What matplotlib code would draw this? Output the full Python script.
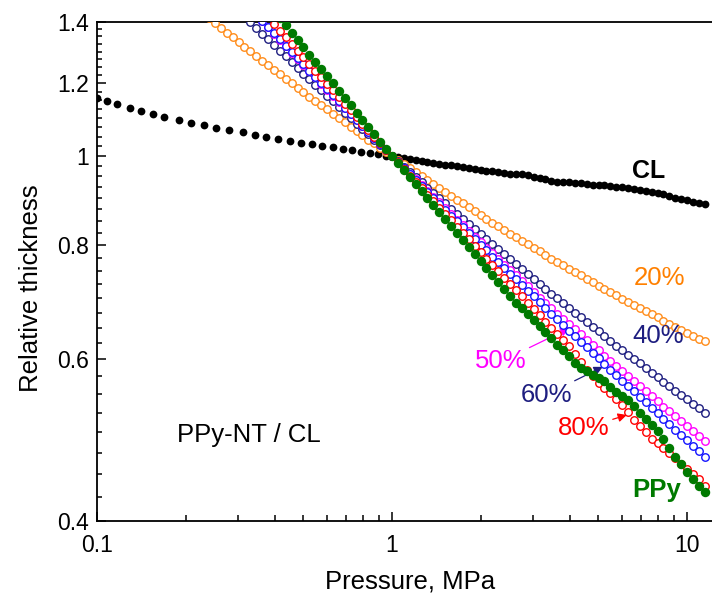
import matplotlib
matplotlib.use('Agg')
import matplotlib.pyplot as plt
from matplotlib.ticker import FixedLocator, FixedFormatter, LogLocator, NullFormatter
import numpy as np

plt.rcParams['font.family'] = ['Liberation Sans', 'DejaVu Sans']

# pressure readings (MPa) shared by the PPy-NT / PPy series
pressure = [0.240, 0.251, 0.263, 0.275, 0.288, 0.302, 0.316, 0.331, 0.347, 0.363,
            0.380, 0.398, 0.417, 0.437, 0.457, 0.479, 0.501, 0.525, 0.550, 0.575,
            0.603, 0.631, 0.661, 0.692, 0.724, 0.759, 0.794, 0.832, 0.871, 0.912,
            0.955, 1.000, 1.047, 1.096, 1.148, 1.202, 1.259, 1.318, 1.380, 1.445,
            1.514, 1.585, 1.660, 1.738, 1.820, 1.905, 1.995, 2.089, 2.188, 2.291,
            2.399, 2.512, 2.630, 2.754, 2.884, 3.020, 3.162, 3.311, 3.467, 3.631,
            3.802, 3.981, 4.169, 4.365, 4.571, 4.786, 5.012, 5.248, 5.495, 5.754,
            6.026, 6.310, 6.607, 6.918, 7.244, 7.586, 7.943, 8.318, 8.710, 9.120,
            9.550, 10.00, 10.47, 10.96, 11.48]

# relative thickness, each series ends at the last pressure point
thick_20 = [1.413, 1.396, 1.380, 1.363, 1.347, 1.332, 1.316, 1.301, 1.286, 1.271,
            1.257, 1.242, 1.228, 1.214, 1.201, 1.187, 1.174, 1.161, 1.148, 1.136,
            1.124, 1.111, 1.099, 1.088, 1.076, 1.065, 1.053, 1.042, 1.032, 1.021,
            1.010, 1.000, 0.990, 0.980, 0.970, 0.960, 0.951, 0.941, 0.932, 0.923,
            0.914, 0.905, 0.896, 0.888, 0.879, 0.871, 0.862, 0.854, 0.846, 0.839,
            0.831, 0.823, 0.816, 0.808, 0.801, 0.794, 0.787, 0.780, 0.773, 0.767,
            0.760, 0.753, 0.747, 0.741, 0.734, 0.728, 0.722, 0.716, 0.710, 0.705,
            0.699, 0.693, 0.688, 0.682, 0.677, 0.672, 0.667, 0.661, 0.656, 0.651,
            0.646, 0.642, 0.637, 0.632, 0.628]

thick_40 = [1.421, 1.400, 1.380, 1.360, 1.341, 1.321, 1.303, 1.284, 1.266, 1.248,
            1.230, 1.213, 1.196, 1.179, 1.163, 1.147, 1.131, 1.115, 1.100, 1.085,
            1.070, 1.056, 1.041, 1.027, 1.014, 1.000, 0.987, 0.974, 0.961, 0.948,
            0.936, 0.923, 0.911, 0.899, 0.888, 0.876, 0.865, 0.854, 0.843, 0.832,
            0.822, 0.811, 0.801, 0.791, 0.781, 0.772, 0.762, 0.753, 0.744, 0.734,
            0.725, 0.717, 0.708, 0.700, 0.691, 0.683, 0.675, 0.667, 0.659, 0.651,
            0.644, 0.636, 0.629, 0.621, 0.614, 0.607, 0.600, 0.594, 0.587, 0.580,
            0.574, 0.567, 0.561, 0.555, 0.549, 0.543, 0.537, 0.531, 0.525]

thick_50 = [1.425, 1.403, 1.381, 1.359, 1.338, 1.317, 1.296, 1.276, 1.256, 1.237,
            1.218, 1.199, 1.181, 1.163, 1.145, 1.128, 1.111, 1.094, 1.078, 1.062,
            1.046, 1.030, 1.015, 1.000, 0.985, 0.971, 0.957, 0.943, 0.929, 0.916,
            0.903, 0.890, 0.877, 0.864, 0.852, 0.840, 0.828, 0.817, 0.805, 0.794,
            0.783, 0.772, 0.761, 0.751, 0.741, 0.731, 0.721, 0.711, 0.701, 0.692,
            0.683, 0.673, 0.665, 0.656, 0.647, 0.639, 0.630, 0.622, 0.614, 0.606,
            0.598, 0.591, 0.583, 0.576, 0.568, 0.561, 0.554, 0.547, 0.540, 0.533,
            0.527, 0.520, 0.514, 0.508, 0.501, 0.495, 0.489]

thick_60 = [1.427, 1.405, 1.383, 1.361, 1.340, 1.319, 1.298, 1.278, 1.259, 1.239,
            1.220, 1.201, 1.183, 1.165, 1.147, 1.129, 1.112, 1.095, 1.079, 1.062,
            1.046, 1.031, 1.015, 1.000, 0.985, 0.970, 0.956, 0.942, 0.928, 0.914,
            0.900, 0.887, 0.874, 0.861, 0.849, 0.836, 0.824, 0.812, 0.800, 0.789,
            0.777, 0.766, 0.755, 0.744, 0.734, 0.723, 0.713, 0.703, 0.693, 0.683,
            0.673, 0.664, 0.654, 0.645, 0.636, 0.627, 0.619, 0.610, 0.602, 0.593,
            0.585, 0.577, 0.569, 0.561, 0.554, 0.546, 0.539, 0.531, 0.524, 0.517,
            0.510, 0.503, 0.496, 0.490, 0.483, 0.477, 0.470]

thick_80 = [1.441, 1.417, 1.393, 1.370, 1.347, 1.325, 1.303, 1.281, 1.260, 1.239,
            1.219, 1.198, 1.179, 1.159, 1.140, 1.122, 1.103, 1.085, 1.068, 1.050,
            1.033, 1.016, 1.000, 0.984, 0.968, 0.952, 0.937, 0.922, 0.907, 0.893,
            0.878, 0.864, 0.851, 0.837, 0.824, 0.811, 0.798, 0.785, 0.773, 0.761,
            0.749, 0.737, 0.725, 0.714, 0.703, 0.692, 0.681, 0.671, 0.660, 0.650,
            0.640, 0.630, 0.620, 0.608, 0.596, 0.585, 0.575, 0.566, 0.559, 0.552,
            0.543, 0.535, 0.526, 0.516, 0.508, 0.500, 0.492, 0.486, 0.480, 0.474,
            0.468, 0.462, 0.456, 0.450, 0.444, 0.437]

thick_ppy = [1.439, 1.413, 1.388, 1.363, 1.338, 1.314, 1.290, 1.267, 1.244, 1.222,
             1.200, 1.178, 1.157, 1.136, 1.115, 1.095, 1.075, 1.056, 1.037, 1.018,
             1.000, 0.983, 0.965, 0.949, 0.932, 0.916, 0.900, 0.884, 0.869, 0.854,
             0.839, 0.824, 0.810, 0.796, 0.782, 0.768, 0.755, 0.742, 0.729, 0.716,
             0.704, 0.692, 0.682, 0.672, 0.662, 0.652, 0.643, 0.633, 0.623, 0.614,
             0.605, 0.595, 0.588, 0.583, 0.577, 0.573, 0.568, 0.560, 0.553, 0.547,
             0.542, 0.534, 0.525, 0.517, 0.509, 0.501, 0.491, 0.480, 0.470, 0.461,
             0.452, 0.444, 0.437, 0.430]

# carbon layer (CL) alone
cl_pressure = [0.100, 0.108, 0.117, 0.129, 0.141, 0.155, 0.169, 0.189, 0.209, 0.231,
               0.254, 0.281, 0.312, 0.342, 0.375, 0.411, 0.451, 0.492, 0.536, 0.581,
               0.631, 0.682, 0.730, 0.785, 0.842, 0.899, 0.954,
               1.000, 1.047, 1.096, 1.148, 1.202, 1.259, 1.318, 1.380, 1.445, 1.514,
               1.585, 1.660, 1.738, 1.820, 1.905, 1.995, 2.089, 2.188, 2.291, 2.399,
               2.512, 2.630, 2.754, 2.884, 3.020, 3.162, 3.311, 3.467, 3.631, 3.802,
               3.981, 4.169, 4.365, 4.571, 4.786, 5.012, 5.248, 5.495, 5.754, 6.026,
               6.310, 6.607, 6.918, 7.244, 7.586, 7.943, 8.318, 8.710, 9.120, 9.550,
               10.00, 10.47, 10.96, 11.48]
cl_thick = [1.156, 1.148, 1.139, 1.127, 1.120, 1.111, 1.103, 1.095, 1.087, 1.081,
            1.074, 1.067, 1.061, 1.055, 1.050, 1.044, 1.038, 1.034, 1.030, 1.026,
            1.022, 1.017, 1.014, 1.011, 1.008, 1.004, 1.001,
            0.999, 0.997, 0.995, 0.993, 0.990, 0.988, 0.986, 0.983, 0.980, 0.978,
            0.977, 0.975, 0.972, 0.970, 0.968, 0.966, 0.964, 0.962, 0.960, 0.959,
            0.957, 0.956, 0.955, 0.953, 0.949, 0.946, 0.943, 0.940, 0.938, 0.937,
            0.936, 0.935, 0.934, 0.932, 0.931, 0.930, 0.929, 0.928, 0.926, 0.925,
            0.924, 0.921, 0.919, 0.916, 0.914, 0.911, 0.908, 0.904, 0.900, 0.897,
            0.895, 0.892, 0.889, 0.887]

C_ORANGE = '#FF8C1A'
C_NAVY = '#1E1E80'
C_MAGENTA = '#FF00FF'
C_BLUE = '#1414FF'
C_RED = '#FF0000'
C_GREEN = '#007A00'

fig = plt.figure(figsize=(7.12, 5.99), dpi=100)
ax = fig.add_axes([97/712, 78/599, 615/712, 499/599])

ax.plot(cl_pressure, cl_thick, 'o', color='black', ms=5.6, mew=0, zorder=2)

def rings(y, color, z):
    ax.plot(pressure[-len(y):], y, 'o', ms=5.4, mfc='white', mec=color, mew=1.0,
            ls='none', zorder=z)

rings(thick_20, C_ORANGE, 3)
rings(thick_40, C_NAVY, 4)
rings(thick_50, C_MAGENTA, 5)
rings(thick_60, C_BLUE, 6)
rings(thick_80, C_RED, 7)
ax.plot(pressure[-len(thick_ppy):], thick_ppy, 'o', color=C_GREEN, ms=6.8, mew=0, zorder=8)

ax.set_xscale('log')
ax.set_yscale('log')
ax.set_xlim(0.1, 12.15)
ax.set_ylim(0.4, 1.4)

ax.xaxis.set_major_locator(FixedLocator([0.1, 1, 10]))
ax.xaxis.set_major_formatter(FixedFormatter(['0.1', '1', '10']))
ax.xaxis.set_minor_locator(LogLocator(base=10, subs=np.arange(2, 10)))
ax.xaxis.set_minor_formatter(NullFormatter())

ax.yaxis.set_major_locator(FixedLocator([0.4, 0.6, 0.8, 1.0, 1.2, 1.4]))
ax.yaxis.set_major_formatter(FixedFormatter(['0.4', '0.6', '0.8', '1', '1.2', '1.4']))
ax.yaxis.set_minor_locator(FixedLocator(np.arange(0.425, 1.4, 0.025)))
ax.yaxis.set_minor_formatter(NullFormatter())

ax.tick_params(which='both', direction='in', top=False, right=False, width=1.1)
ax.tick_params(which='major', length=6.5, labelsize=16.5)
ax.tick_params(axis='x', which='major', pad=9)
ax.tick_params(axis='y', which='major', pad=6)
ax.tick_params(axis='x', which='minor', length=4.5)
ax.tick_params(axis='y', which='minor', length=3.5)

ax.spines['right'].set_visible(False)
for s in ['left', 'bottom', 'top']:
    ax.spines[s].set_linewidth(1.3)

ax.set_xlabel('Pressure, MPa', fontsize=18.5)
ax.set_ylabel('Relative thickness', fontsize=18.5)
ax.xaxis.set_label_coords(0.509, -0.098)
ax.yaxis.set_label_coords(-0.088, 0.467)

# series labels
ax.text(7.43, 0.963, 'CL', fontsize=18, fontweight='bold', ha='center', va='center')
ax.text(8.04, 0.736, '20%', fontsize=18.5, color='#FF8000', ha='center', va='center')
ax.text(7.98, 0.636, '40%', fontsize=18.5, color=C_NAVY, ha='center', va='center')
ax.text(7.91, 0.432, 'PPy', fontsize=18.5, fontweight='bold', color=C_GREEN,
        ha='center', va='center')
ax.text(0.3276, 0.496, 'PPy-NT / CL', fontsize=18.5, ha='center', va='center')

arrow = dict(arrowstyle='-|>', lw=0.9, mutation_scale=13, shrinkA=0, shrinkB=0)
ax.annotate('50%', xy=(3.99, 0.649), xytext=(2.86, 0.597), fontsize=18.5,
            color=C_MAGENTA, ha='right', va='center',
            arrowprops=dict(arrow, color=C_MAGENTA))
ax.annotate('60%', xy=(5.18, 0.589), xytext=(4.07, 0.549), fontsize=18.5,
            color=C_NAVY, ha='right', va='center',
            arrowprops=dict(arrow, color=C_NAVY))
ax.annotate('80%', xy=(6.25, 0.522), xytext=(5.48, 0.505), fontsize=18.5,
            color=C_RED, ha='right', va='center',
            arrowprops=dict(arrow, color=C_RED))

fig.savefig('out.png', dpi=100)
